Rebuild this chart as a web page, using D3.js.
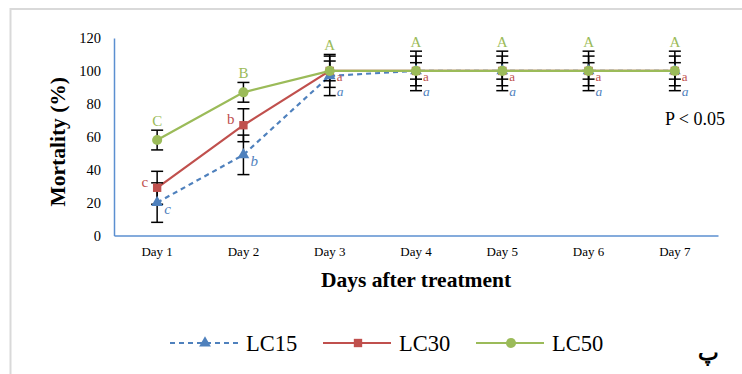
<!DOCTYPE html>
<html>
<head>
<meta charset="utf-8">
<script src="https://cdn.jsdelivr.net/npm/d3@7"></script>
<style>
  html, body { margin: 0; padding: 0; background: #fff; }
  svg { display: block; }
  text { font-family: "Liberation Serif", "Times New Roman", serif; }
</style>
</head>
<body>
<svg id="chart" width="742" height="374"></svg>
<script>
// Mortality (%) over 7 days for three concentrations
const days = ["Day 1", "Day 2", "Day 3", "Day 4", "Day 5", "Day 6", "Day 7"];
const yTicks = [0, 20, 40, 60, 80, 100, 120];

const lc15 = [20, 49, 97, 100, 100, 100, 100];
const lc15Err = [12, 12, 12, 12, 12, 12, 12];
const lc15Letters = ["c", "b", "a", "a", "a", "a", "a"];

const lc30 = [29, 67, 100, 100, 100, 100, 100];
const lc30Err = [10, 10, 10, 9, 9, 9, 9];
const lc30Letters = ["c", "b", "a", "a", "a", "a", "a"];

const lc50 = [58, 87, 100, 100, 100, 100, 100];
const lc50Err = [6, 6, 6, 5, 5, 5, 5];
const lc50Letters = ["C", "B", "A", "A", "A", "A", "A"];

const seriesNames = ["LC15", "LC30", "LC50"];

const SERIF = "Liberation Serif";
const svg = d3.select("#chart");

// outer frame
svg.append("rect")
  .attr("x", 10.5).attr("y", 9)
  .attr("width", 760).attr("height", 400)
  .attr("fill", "none").attr("stroke", "#d9d9d9").attr("stroke-width", 2);

const x = d3.scaleBand().domain(days).range([114, 718]);
const y = d3.scaleLinear().domain([0, 120]).range([235.5, 38]);
const cx = d => x(d) + x.bandwidth() / 2;

const series = [
  { name: "LC15", values: lc15, err: lc15Err, letters: lc15Letters, color: "#4F81BD", dash: "5,4", shape: d3.symbolTriangle, size: 60 },
  { name: "LC30", values: lc30, err: lc30Err, letters: lc30Letters, color: "#C0504D", dash: null, shape: d3.symbolSquare, size: 70 },
  { name: "LC50", values: lc50, err: lc50Err, letters: lc50Letters, color: "#9BBB59", dash: null, shape: d3.symbolCircle, size: 80 }
];

// axes (lines only, no ticks)
const xAxis = svg.append("g").attr("transform", `translate(0,${y(0)})`)
  .call(d3.axisBottom(x).tickSize(0).tickPadding(11));
xAxis.select(".domain").attr("stroke", "#5B8FD0").attr("stroke-width", 1.5);
xAxis.selectAll("text").attr("font-family", SERIF).attr("font-size", 13).attr("fill", "#000");

const yAxis = svg.append("g").attr("transform", `translate(${x.range()[0]},0)`)
  .call(d3.axisLeft(y).tickValues(yTicks).tickSize(0).tickPadding(13));
yAxis.select(".domain").attr("stroke", "#5B8FD0").attr("stroke-width", 1.5);
yAxis.selectAll("text").attr("font-family", SERIF).attr("font-size", 14.5).attr("fill", "#000");

// axis titles
svg.append("text")
  .attr("transform", `translate(65,${(y(0) + y(120)) / 2 + 5}) rotate(-90)`)
  .attr("text-anchor", "middle")
  .attr("font-family", SERIF)
  .attr("font-size", 21.5).attr("font-weight", "bold")
  .text("Mortality (%)");

svg.append("text")
  .attr("x", 416).attr("y", 287)
  .attr("text-anchor", "middle")
  .attr("font-family", SERIF)
  .attr("font-size", 21.5).attr("font-weight", "bold")
  .text("Days after treatment");

// lines
const line = d3.line().x(d => cx(d.day)).y(d => y(d.v));
series.forEach(s => {
  const pts = days.map((d, i) => ({ day: d, v: s.values[i] }));
  svg.append("path")
    .datum(pts)
    .attr("d", line)
    .attr("fill", "none")
    .attr("stroke", s.color)
    .attr("stroke-width", 2.2)
    .attr("stroke-dasharray", s.dash);
});

// error bars
series.forEach(s => {
  const g = svg.append("g");
  days.forEach((d, i) => {
    const v = s.values[i], e = s.err[i], px = cx(d);
    g.append("line").attr("x1", px).attr("x2", px)
      .attr("y1", y(v - e)).attr("y2", y(v + e))
      .attr("stroke", "#000").attr("stroke-width", 1.5);
    [v - e, v + e].forEach(t => {
      g.append("line").attr("x1", px - 6).attr("x2", px + 6)
        .attr("y1", y(t)).attr("y2", y(t))
        .attr("stroke", "#000").attr("stroke-width", 1.5);
    });
  });
});

// markers
series.forEach(s => {
  svg.append("g").selectAll("path")
    .data(days.map((d, i) => ({ day: d, v: s.values[i] })))
    .join("path")
    .attr("transform", d => `translate(${cx(d.day)},${y(d.v)})`)
    .attr("d", d3.symbol().type(s.shape).size(s.size))
    .attr("fill", s.color);
});

// significance letters
days.forEach((d, i) => {
  const px = cx(d);
  const plateau = i >= 2;
  // LC50: uppercase above the highest error bar at that day
  const top = plateau
    ? d3.max(series, s => s.values[i] + s.err[i])
    : lc50[i] + lc50Err[i];
  svg.append("text")
    .attr("x", px).attr("y", y(top) - 4)
    .attr("text-anchor", "middle").attr("font-family", SERIF).attr("font-size", 15)
    .attr("fill", "#9BBB59").text(lc50Letters[i]);
  // LC30: left of marker on the rising part, right of it on the plateau
  svg.append("text")
    .attr("x", plateau ? px + 7 : px - 9)
    .attr("y", plateau ? y(lc30[i]) + 10 : y(lc30[i]) - 1)
    .attr("text-anchor", plateau ? "start" : "end")
    .attr("font-family", SERIF).attr("font-size", plateau ? 13 : 15)
    .attr("fill", "#C0504D").text(lc30Letters[i]);
  // LC15: italic, right of marker
  svg.append("text")
    .attr("x", px + 7)
    .attr("y", plateau ? y(100) + 25 : y(lc15[i]) + 11)
    .attr("text-anchor", "start").attr("font-family", SERIF)
    .attr("font-size", plateau ? 13.5 : 15).attr("font-style", "italic")
    .attr("fill", "#4F81BD").text(lc15Letters[i]);
});

svg.append("text")
  .attr("x", 665).attr("y", 125)
  .attr("font-family", SERIF)
  .attr("font-size", 18).text("P < 0.05");

// legend
const legendX = [170, 323, 476];
series.forEach((s, i) => {
  const lx = legendX[i], ly = 343;
  svg.append("line").attr("x1", lx).attr("x2", lx + 68).attr("y1", ly).attr("y2", ly)
    .attr("stroke", s.color).attr("stroke-width", 2.2).attr("stroke-dasharray", s.dash);
  svg.append("path").attr("transform", `translate(${lx + 35},${ly})`)
    .attr("d", d3.symbol().type(s.shape).size(s.size)).attr("fill", s.color);
  svg.append("text").attr("x", lx + 76).attr("y", ly + 8)
    .attr("font-family", SERIF)
    .attr("font-size", 22.5).text(seriesNames[i]);
});

svg.append("text")
  .attr("x", 708).attr("y", 360)
  .attr("text-anchor", "middle")
  .attr("font-family", "DejaVu Sans")
  .attr("font-size", 22).attr("font-weight", "bold")
  .text("پ");
</script>
</body>
</html>
